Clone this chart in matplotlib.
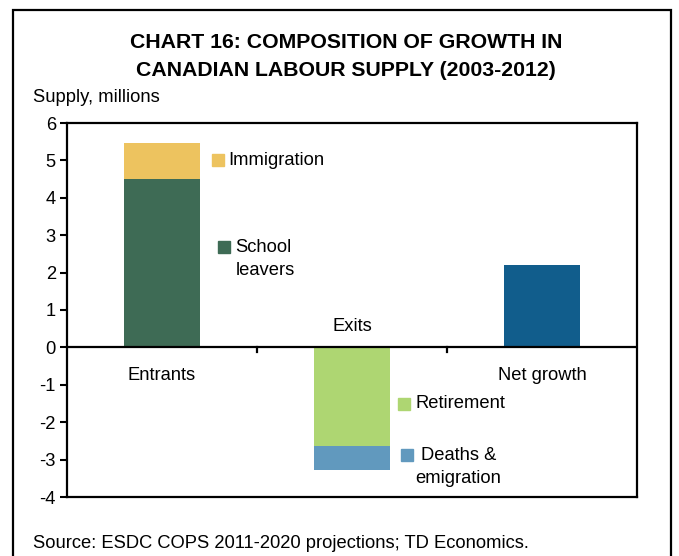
import numpy as np
import matplotlib
matplotlib.use("Agg")
import matplotlib.pyplot as plt
from matplotlib.patches import Rectangle

plt.rcParams['font.family'] = ['Liberation Sans', 'DejaVu Sans']

categories = ["Entrants", "Exits", "Net growth"]
school_leavers = 4.5
immigration = 0.97
retirement = -2.63
deaths_emigration = -0.64
net_growth = 2.2
yticks = [-4, -3, -2, -1, 0, 1, 2, 3, 4, 5, 6]

c_imm = "#EDC35F"
c_school = "#3E6B55"
c_ret = "#AED672"
c_death = "#6199BE"
c_net = "#115D8C"

fs = 13.2

fig = plt.figure(figsize=(6.79, 5.56), dpi=100)
ax = fig.add_axes([67/679, 1-497/556, 570/679, 374/556])

x = np.arange(len(categories))
w = 0.405
ax.bar(x[0], school_leavers, w, color=c_school)
ax.bar(x[0], immigration, w, bottom=school_leavers, color=c_imm)
ax.bar(x[1], retirement, w, color=c_ret)
ax.bar(x[1], deaths_emigration, w, bottom=retirement, color=c_death)
ax.bar(x[2], net_growth, w, color=c_net)

ax.set_xlim(-0.5, 2.5)
ax.set_ylim(-4, 6)
ax.set_yticks(yticks)
ax.set_yticklabels([str(v) for v in yticks], fontsize=fs)
ax.tick_params(axis='y', direction='out', length=5, width=1.5, pad=3)
ax.set_xticks([])
for s in ax.spines.values():
    s.set_linewidth(1.6)

# zero line with category separators
ax.axhline(0, color='black', lw=1.6)
for xs in [0.5, 1.5]:
    ax.plot([xs, xs], [0, -0.13], color='black', lw=1.6, clip_on=False)

# category labels
ax.text(x[0], -0.74, categories[0], ha='center', va='center', fontsize=fs)
ax.text(x[1], 0.55, categories[1], ha='center', va='center', fontsize=fs)
ax.text(x[2], -0.74, categories[2], ha='center', va='center', fontsize=fs)

# series name labels
def key(xk, yk, color, label, xt, yt, ha='left'):
    ax.plot([xk], [yk], marker='s', ms=8.6, color=color, ls='none')
    ax.text(xt, yt, label, ha=ha, va='center', fontsize=fs, linespacing=1.5)

key(0.297, 5.01, c_imm, "Immigration", 0.35, 5.01)
key(0.324, 2.68, c_school, "School\nleavers", 0.387, 2.36)
key(1.276, -1.51, c_ret, "Retirement", 1.334, -1.51)
key(1.287, -2.88, c_death, "Deaths &\nemigration", 1.56, -3.20, ha='center')

fig.text(33/679, 1-97/556, "Supply, millions", ha='left', va='center', fontsize=fs)

fig.text(346/679, 1-42/556, "CHART 16: COMPOSITION OF GROWTH IN",
         ha='center', va='center', fontsize=15.3, fontweight='bold')
fig.text(346/679, 1-70/556, "CANADIAN LABOUR SUPPLY (2003-2012)",
         ha='center', va='center', fontsize=15.3, fontweight='bold')

fig.text(33/679, 1-544/556, "Source: ESDC COPS 2011-2020 projections; TD Economics.",
         ha='left', va='center', fontsize=fs)

# outer frame (open at the bottom)
frame = Rectangle((13/679, -0.05), (671-13)/679, 1.05 - 10/556, transform=fig.transFigure,
                  fill=False, edgecolor='black', lw=1.6)
fig.patches.append(frame)

fig.savefig("out.png", dpi=100)
